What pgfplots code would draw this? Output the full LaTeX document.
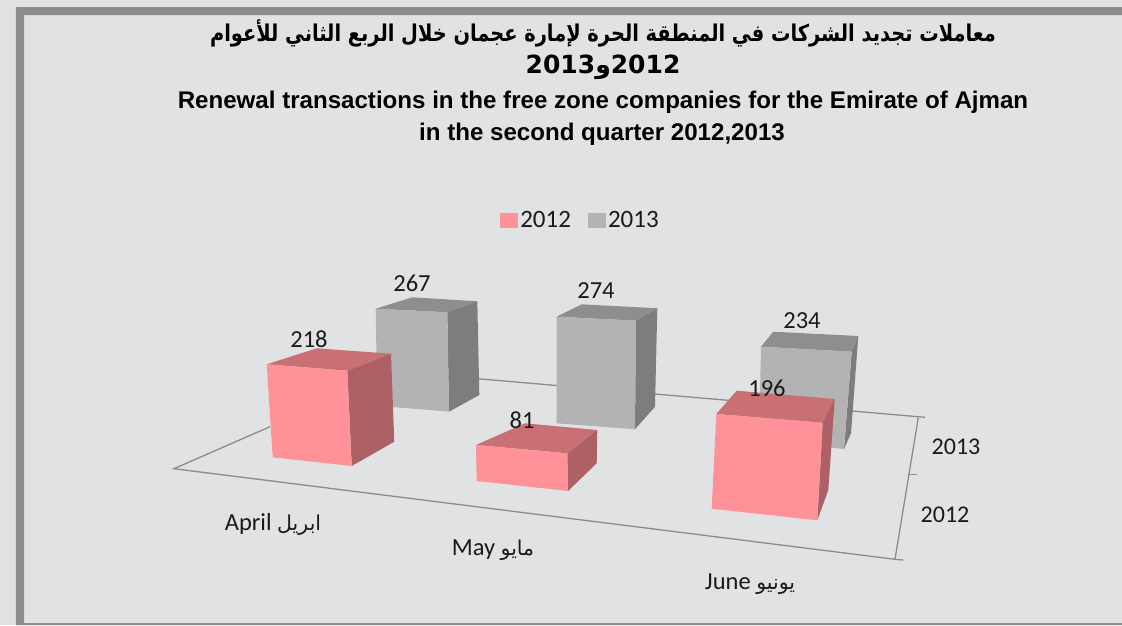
\documentclass[border=0pt]{standalone}
\usepackage{fontspec}
\usepackage{pgfplots}
\pgfplotsset{compat=1.18}
\TeXXeTstate=1
\setmainfont{Carlito}
\newfontfamily\titlefont{Liberation Sans}
\newfontfamily\arabicfont[Script=Arabic]{DejaVu Sans}
\definecolor{bg}{HTML}{E0E2E4}
\definecolor{frame}{HTML}{8C8E8C}
\definecolor{pf}{HTML}{FF9198}
\definecolor{pt}{HTML}{C97075}
\definecolor{pr}{HTML}{AE6165}
\definecolor{gf}{HTML}{B3B3B3}
\definecolor{gt}{HTML}{8E8E8E}
\definecolor{gr}{HTML}{7D7D7D}
\definecolor{ln}{HTML}{8A8C8C}
\definecolor{tx}{HTML}{1A1A1A}
\newcommand{\lab}[2]{\fontsize{24.5}{24.5}\selectfont #1 {\arabicfont\fontsize{20.5}{20.5}\selectfont\beginR #2\endR}}
\begin{document}
\begin{tikzpicture}[x=1pt,y=1pt]
\begin{axis}[
  scale only axis, width=1122pt, height=625pt,
  xmin=0, xmax=1122, ymin=0, ymax=625, y dir=reverse,
  hide axis, clip=true,
  legend style={at={(axis cs:580.5,220)},anchor=center,draw=none,fill=none,
    font=\fontsize{25}{25}\selectfont\color{tx},legend columns=2,
    /tikz/every even column/.append style={column sep=15pt},
    inner sep=0pt, nodes={inner sep=2pt}},
  legend image code/.code={\path (0pt,-7.5pt) rectangle (18pt,7.5pt);\fill[#1] (0pt,-7.5pt) rectangle (14pt,7.5pt);},
  surf/.style={draw=none, forget plot},
]
% background and frame
\addplot[surf, fill=bg] coordinates {(0,0)(1122,0)(1122,625)(0,625)} --cycle;
\addplot[surf, fill=frame] coordinates {(16,7)(1122,7)(1122,15)(24,15)(24,623)(1122,623)(1122,625)(16,625)} --cycle;
% legend keys
\addplot[draw=none, fill=pf] coordinates {(-10,-10)(-9,-10)} ;
\addlegendentry{2012}
\addplot[draw=none, fill=gf] coordinates {(-10,-10)(-9,-10)} ;
\addlegendentry{2013}
% floor
\addplot[forget plot, ln, line width=1.3pt] coordinates {(270,426.7)(174,468.7)(895,559.3)(903.3,560)};
\addplot[forget plot, ln, line width=1.3pt] coordinates {(400,372)(925,417.3)};
\addplot[forget plot, ln, line width=1.3pt] coordinates {(918.3,417.5)(895,559.3)};
\addplot[forget plot, ln, line width=1.3pt] coordinates {(908.3,474.3)(916.7,474.3)};
% 2013 April 267
\addplot[surf, fill=gt] coordinates {(375.7,308.7)(412.3,297.3)(477.3,301.3)(447.3,312.3)} --cycle;
\addplot[surf, fill=gr] coordinates {(447.3,312.3)(477.3,301.3)(479.3,395)(449,411.7)} --cycle;
\addplot[surf, fill=gf] coordinates {(375.7,308.7)(447.3,312.3)(449,411.7)(377.3,405.7)} --cycle;
% 2013 May 274
\addplot[surf, fill=gt] coordinates {(556.7,316.7)(581.7,304.3)(657.3,308.3)(636,320.7)} --cycle;
\addplot[surf, fill=gr] coordinates {(636,320.7)(657.3,308.3)(655,406.7)(635,429.3)} --cycle;
\addplot[surf, fill=gf] coordinates {(556.7,316.7)(636,320.7)(635,429.3)(556.7,423.3)} --cycle;
% 2013 June 234
\addplot[surf, fill=gt] coordinates {(761,346.7)(773.3,331.7)(858.3,336)(851.7,351.7)} --cycle;
\addplot[surf, fill=gr] coordinates {(851.7,351.7)(858.3,336)(851,433.3)(844,449)} --cycle;
\addplot[surf, fill=gf] coordinates {(761,346.7)(851.7,351.7)(844,449)(759,440)} --cycle;
% 2012 April 218
\addplot[surf, fill=pt] coordinates {(266.7,364.3)(316.7,348.3)(391,353.7)(347.3,370.7)} --cycle;
\addplot[surf, fill=pr] coordinates {(347.3,370.7)(391,353.7)(394.3,441.7)(351.7,466)} --cycle;
\addplot[surf, fill=pf] coordinates {(266.7,364.3)(347.3,370.7)(351.7,466)(272.7,457.3)} --cycle;
% 2012 May 81
\addplot[surf, fill=pt] coordinates {(476,445)(525,423.3)(597.3,430)(567.3,453.3)} --cycle;
\addplot[surf, fill=pr] coordinates {(567.3,453.3)(597.3,430)(596.7,463.3)(568,491)} --cycle;
\addplot[surf, fill=pf] coordinates {(476,445)(567.3,453.3)(568,491)(476.7,481)} --cycle;
% 2012 June 196
\addplot[surf, fill=pt] coordinates {(716.3,414)(736.7,390.7)(834.7,399)(822.7,422.7)} --cycle;
\addplot[surf, fill=pr] coordinates {(822.7,422.7)(834.7,399)(828.3,490)(817.3,520.3)} --cycle;
\addplot[surf, fill=pf] coordinates {(716.3,414)(822.7,422.7)(817.3,520.3)(711.7,508.7)} --cycle;
% value labels
\addplot[forget plot, draw=none, mark=none, nodes near coords, point meta=explicit symbolic,
  every node near coord/.style={anchor=center, inner sep=0pt, text=tx, font=\fontsize{24.5}{24.5}\selectfont}]
  coordinates {(309,339)[218] (412,283)[267] (596,291)[274] (522,420)[81] (802,321)[234] (767,388)[196]};
% category and depth labels
\node[text=tx] at (axis cs:273,524) {\lab{April}{ابريل}};
\node[text=tx] at (axis cs:493,550) {\lab{May}{مايو}};
\node[text=tx] at (axis cs:750,584) {\lab{June}{يونيو}};
\node[text=tx,font=\fontsize{24}{24}\selectfont] at (axis cs:956,447) {2013};
\node[text=tx,font=\fontsize{24}{24}\selectfont] at (axis cs:945,515) {2012};
% titles
\node[text=black] at (axis cs:603,33) {\scalebox{0.924}[1.1]{\arabicfont\bfseries\fontsize{21}{21}\selectfont\beginR معاملات تجديد الشركات في المنطقة الحرة لإمارة عجمان خلال الربع الثاني للأعوام\endR}};
\node[text=black] at (axis cs:603,67) {\arabicfont\bfseries\fontsize{25}{25}\selectfont\beginR\beginL 2012\endL و\beginL 2013\endL\endR};
\node[text=black] at (axis cs:603,102) {\titlefont\bfseries\fontsize{24.1}{24.1}\selectfont Renewal transactions in the free zone companies for the Emirate of Ajman};
\node[text=black] at (axis cs:602,134) {\titlefont\bfseries\fontsize{24.1}{24.1}\selectfont in the second quarter 2012,2013};
\end{axis}
\end{tikzpicture}
\end{document}
